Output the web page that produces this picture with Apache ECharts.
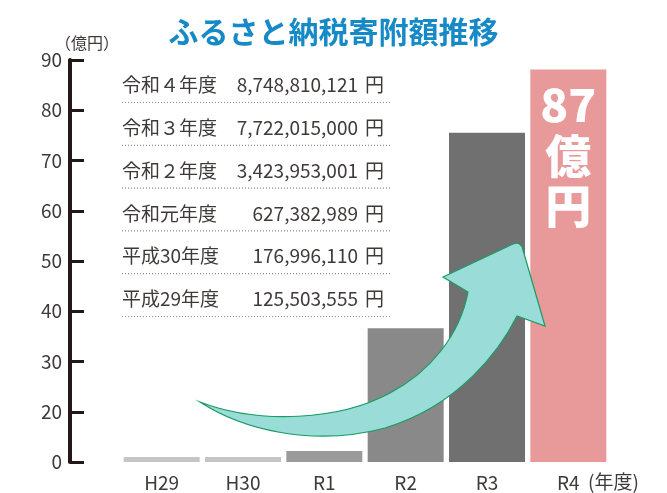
<!DOCTYPE html>
<html>
<head>
<meta charset="utf-8">
<script src="https://cdn.jsdelivr.net/npm/echarts@6/dist/echarts.min.js"></script>
<style>
  html, body { margin: 0; padding: 0; background: #fff; }
  #main { width: 667px; height: 493px; }
</style>
</head>
<body>
<div id="main"></div>
<script>
// bar heights (the 10 mark is cut out of the axis)
const categories = ['H29', 'H30', 'R1', 'R2', 'R3', 'R4']
const barValues = [1.0, 1.0, 2.2, 36.6, 75.5, 88.1]
const barColors = ['#c5c5c5', '#c5c5c5', '#9b9b9b', '#898989', '#717071', '#e8999a']
const yTicks = [0, 20, 30, 40, 50, 60, 70, 80, 90]

// the yearly amounts listed on the left
const tableYears = ['令和４年度', '令和３年度', '令和２年度', '令和元年度', '平成30年度', '平成29年度']
const tableAmounts = ['8,748,810,121', '7,722,015,000', '3,423,953,001', '627,382,989', '176,996,110', '125,503,555']

const FONT = '"Noto Sans CJK JP", "Noto Sans", sans-serif'
const TEXT_COLOR = '#3e3a39'
const AXIS_COLOR = '#231815'

// big teal arrow
const BigArrow = echarts.graphic.extendShape({
  buildPath (ctx) {
    ctx.moveTo(200, 402)
    ctx.bezierCurveTo(260, 425, 340, 420, 390, 393)
    ctx.bezierCurveTo(430, 372, 460, 335, 468, 292)
    ctx.lineTo(443, 277)
    ctx.lineTo(513, 244)
    ctx.quadraticCurveTo(521, 241, 523, 250)
    ctx.lineTo(545, 326)
    ctx.lineTo(517, 316)
    ctx.bezierCurveTo(500, 350, 460, 405, 385, 428)
    ctx.bezierCurveTo(310, 448, 240, 428, 200, 402)
    ctx.closePath()
  }
})
echarts.graphic.registerShape('bigArrow', BigArrow)

const chart = echarts.init(document.getElementById('main'))

const oku = Math.floor(Number(tableAmounts[0].replace(/,/g, '')) / 1e8)

const seriesData = barValues.map((v, i) => {
  const item = { value: v, itemStyle: { color: barColors[i] } }
  if (i === barValues.length - 1) {
    item.label = {
      show: true,
      position: 'insideTop',
      distance: 9,
      formatter: '{n|' + oku + '}\n{k|億}\n{k|円}',
      rich: {
        n: { fontSize: 46, lineHeight: 52, fontWeight: 900, color: '#fff', fontFamily: FONT },
        k: { fontSize: 46, lineHeight: 50, fontWeight: 900, color: '#fff', fontFamily: FONT }
      }
    }
  }
  return item
})

// table rows + dotted rules
const graphics = []
tableYears.forEach((year, i) => {
  const cy = 85 + i * 42.8
  graphics.push({
    type: 'text', x: 122, y: cy, z: 10,
    style: { text: year, fill: TEXT_COLOR, font: '19px ' + FONT, align: 'left', verticalAlign: 'middle' }
  })
  graphics.push({
    type: 'text', x: 358, y: cy, z: 10,
    style: { text: tableAmounts[i], fill: TEXT_COLOR, font: '19px ' + FONT, align: 'right', verticalAlign: 'middle' }
  })
  graphics.push({
    type: 'text', x: 365, y: cy, z: 10,
    style: { text: '円', fill: TEXT_COLOR, font: '19px ' + FONT, align: 'left', verticalAlign: 'middle' }
  })
  graphics.push({
    type: 'line', z: 10,
    shape: { x1: 122, y1: cy + 17.5, x2: 391, y2: cy + 17.5 },
    style: { stroke: '#8f8f8f', lineWidth: 1.2, lineDash: [1, 2] }
  })
})
graphics.push({
  type: 'text', x: 55, y: 43,
  style: { text: '（億円）', fill: TEXT_COLOR, font: '16px ' + FONT, align: 'left', verticalAlign: 'middle' }
})
graphics.push({
  type: 'text', x: 588, y: 482,
  style: { text: '(年度)', fill: TEXT_COLOR, font: '19px ' + FONT, align: 'left', verticalAlign: 'middle' }
})
graphics.push({
  type: 'bigArrow', z: 100,
  style: { fill: '#9adcd7', stroke: '#1a9b63', lineWidth: 1.2 }
})

const option = {
  animation: false,
  textStyle: { fontFamily: FONT },
  title: {
    text: 'ふるさと納税寄附額推移',
    left: 'center',
    top: 12,
    textStyle: { fontSize: 30, fontWeight: 'bold', color: '#168ac6', fontFamily: FONT }
  },
  grid: { left: 121, right: 58, top: 60, bottom: 31 },
  xAxis: {
    type: 'category',
    data: categories,
    axisLine: { show: false },
    axisTick: { show: false },
    axisLabel: { color: TEXT_COLOR, fontSize: 19, margin: 11, fontFamily: FONT }
  },
  yAxis: {
    type: 'value',
    min: 0,
    max: 90,
    interval: 10,
    breaks: [{ start: 3, end: 13, gap: 0 }],
    breakArea: { show: false },
    offset: 51,
    axisLine: { show: true, lineStyle: { color: AXIS_COLOR, width: 4 } },
    axisTick: {
      show: true,
      inside: true,
      length: 14,
      customValues: yTicks,
      lineStyle: { color: AXIS_COLOR, width: 3 }
    },
    axisLabel: {
      color: TEXT_COLOR,
      fontSize: 19,
      margin: 8,
      fontFamily: FONT,
      customValues: yTicks
    },
    splitLine: { show: false }
  },
  series: [
    {
      type: 'bar',
      barWidth: 76,
      data: seriesData
    }
  ],
  graphic: graphics
}

chart.setOption(option)
</script>
</body>
</html>
